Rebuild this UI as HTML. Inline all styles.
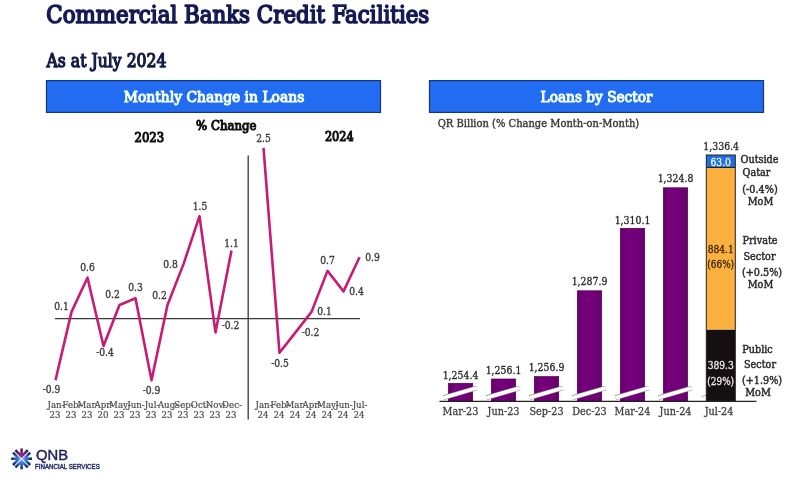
<!DOCTYPE html>
<html lang="en">
<head>
<meta charset="utf-8">
<title>Commercial Banks Credit Facilities</title>
<style>
html,body{margin:0;padding:0;background:#fff;}
body{width:800px;height:487px;overflow:hidden;}
svg{display:block;font-family:"DejaVu Serif Condensed", "DejaVu Serif", "Liberation Serif", serif;filter:blur(0.4px);}
</style>
</head>
<body>
<svg width="800" height="487" viewBox="0 0 800 487">
<rect width="800" height="487" fill="#ffffff"/>
<text x="46.3" y="23.1" font-size="24.6" stroke="#151a55" stroke-width="1.6" stroke-linejoin="round" textLength="383" lengthAdjust="spacingAndGlyphs" fill="#151a55">Commercial Banks Credit Facilities</text>
<text x="46.5" y="67.2" font-size="18.8" stroke="#171c45" stroke-width="1.25" stroke-linejoin="round" textLength="120" lengthAdjust="spacingAndGlyphs" fill="#171c45">As at July 2024</text>
<rect x="46.5" y="80.6" width="334" height="31.8" fill="#226cf2" stroke="#17357f" stroke-width="1.2"/>
<rect x="429.5" y="80.6" width="334" height="31.8" fill="#226cf2" stroke="#17357f" stroke-width="1.2"/>
<text x="214" y="101.8" font-size="14.8" text-anchor="middle" stroke="#f2ffff" stroke-width="1.0" stroke-linejoin="round" textLength="180.5" lengthAdjust="spacingAndGlyphs" fill="#f2ffff">Monthly Change in Loans</text>
<text x="596.6" y="101.8" font-size="14.8" text-anchor="middle" stroke="#f2ffff" stroke-width="1.0" stroke-linejoin="round" textLength="112" lengthAdjust="spacingAndGlyphs" fill="#f2ffff">Loans by Sector</text>
<text x="149.3" y="141.5" font-size="13.6" text-anchor="middle" stroke="#111" stroke-width="1.1" stroke-linejoin="round" textLength="29.5" lengthAdjust="spacingAndGlyphs" fill="#111">2023</text>
<text x="226.3" y="130" font-size="13.6" text-anchor="middle" stroke="#111" stroke-width="1.05" stroke-linejoin="round" textLength="60.5" lengthAdjust="spacingAndGlyphs" fill="#111">% Change</text>
<text x="339.3" y="140.6" font-size="13.6" text-anchor="middle" stroke="#111" stroke-width="1.1" stroke-linejoin="round" textLength="28.8" lengthAdjust="spacingAndGlyphs" fill="#111">2024</text>
<line x1="248.2" y1="155.5" x2="248.2" y2="419.5" stroke="#383838" stroke-width="1.3"/>
<line x1="55" y1="318.6" x2="360" y2="318.6" stroke="#383838" stroke-width="1.3"/>
<polyline points="55.5,380.2 71.5,311.9 87.5,277.7 103.5,346.0 119.5,305.0 135.5,298.2 151.5,380.2 167.5,305.0 183.5,264.1 199.5,216.2 215.5,332.4 231.5,250.4" fill="none" stroke="#c61c73" stroke-width="2.6" stroke-linejoin="round" stroke-linecap="butt"/>
<polyline points="263.5,147.9 279.5,352.8 295.5,332.4 311.5,311.9 327.5,270.9 343.5,291.4 359.5,257.2" fill="none" stroke="#c61c73" stroke-width="2.6" stroke-linejoin="round" stroke-linecap="butt"/>
<text x="51.5" y="392.5" font-size="10.2" text-anchor="middle" stroke="#3e3e3e" stroke-width="0.35" stroke-linejoin="round" fill="#3e3e3e">-0.9</text>
<text x="61.5" y="309.8" font-size="10.2" text-anchor="middle" stroke="#3e3e3e" stroke-width="0.35" stroke-linejoin="round" fill="#3e3e3e">0.1</text>
<text x="87.5" y="270.8" font-size="10.2" text-anchor="middle" stroke="#3e3e3e" stroke-width="0.35" stroke-linejoin="round" fill="#3e3e3e">0.6</text>
<text x="105.0" y="356.3" font-size="10.2" text-anchor="middle" stroke="#3e3e3e" stroke-width="0.35" stroke-linejoin="round" fill="#3e3e3e">-0.4</text>
<text x="112.5" y="298.3" font-size="10.2" text-anchor="middle" stroke="#3e3e3e" stroke-width="0.35" stroke-linejoin="round" fill="#3e3e3e">0.2</text>
<text x="135.5" y="291.3" font-size="10.2" text-anchor="middle" stroke="#3e3e3e" stroke-width="0.35" stroke-linejoin="round" fill="#3e3e3e">0.3</text>
<text x="151.5" y="394.0" font-size="10.2" text-anchor="middle" stroke="#3e3e3e" stroke-width="0.35" stroke-linejoin="round" fill="#3e3e3e">-0.9</text>
<text x="159.5" y="299.3" font-size="10.2" text-anchor="middle" stroke="#3e3e3e" stroke-width="0.35" stroke-linejoin="round" fill="#3e3e3e">0.2</text>
<text x="170.5" y="267.8" font-size="10.2" text-anchor="middle" stroke="#3e3e3e" stroke-width="0.35" stroke-linejoin="round" fill="#3e3e3e">0.8</text>
<text x="200.0" y="209.8" font-size="10.2" text-anchor="middle" stroke="#3e3e3e" stroke-width="0.35" stroke-linejoin="round" fill="#3e3e3e">1.5</text>
<text x="230.5" y="329.3" font-size="10.2" text-anchor="middle" stroke="#3e3e3e" stroke-width="0.35" stroke-linejoin="round" fill="#3e3e3e">-0.2</text>
<text x="231.5" y="247.3" font-size="10.2" text-anchor="middle" stroke="#3e3e3e" stroke-width="0.35" stroke-linejoin="round" fill="#3e3e3e">1.1</text>
<text x="263.5" y="141.8" font-size="10.2" text-anchor="middle" stroke="#3e3e3e" stroke-width="0.35" stroke-linejoin="round" fill="#3e3e3e">2.5</text>
<text x="280.0" y="367.3" font-size="10.2" text-anchor="middle" stroke="#3e3e3e" stroke-width="0.35" stroke-linejoin="round" fill="#3e3e3e">-0.5</text>
<text x="310.5" y="335.8" font-size="10.2" text-anchor="middle" stroke="#3e3e3e" stroke-width="0.35" stroke-linejoin="round" fill="#3e3e3e">-0.2</text>
<text x="324.5" y="315.3" font-size="10.2" text-anchor="middle" stroke="#3e3e3e" stroke-width="0.35" stroke-linejoin="round" fill="#3e3e3e">0.1</text>
<text x="327.5" y="263.8" font-size="10.2" text-anchor="middle" stroke="#3e3e3e" stroke-width="0.35" stroke-linejoin="round" fill="#3e3e3e">0.7</text>
<text x="356.5" y="295.3" font-size="10.2" text-anchor="middle" stroke="#3e3e3e" stroke-width="0.35" stroke-linejoin="round" fill="#3e3e3e">0.4</text>
<text x="372.5" y="260.8" font-size="10.2" text-anchor="middle" stroke="#3e3e3e" stroke-width="0.35" stroke-linejoin="round" fill="#3e3e3e">0.9</text>
<text x="56.0" y="408.2" font-size="9.6" text-anchor="middle" stroke="#484848" stroke-width="0.2" stroke-linejoin="round" fill="#484848">Jan-</text>
<text x="55.0" y="418.3" font-size="9.6" text-anchor="middle" stroke="#484848" stroke-width="0.2" stroke-linejoin="round" fill="#484848">23</text>
<text x="72.0" y="408.2" font-size="9.6" text-anchor="middle" stroke="#484848" stroke-width="0.2" stroke-linejoin="round" fill="#484848">Feb-</text>
<text x="71.0" y="418.3" font-size="9.6" text-anchor="middle" stroke="#484848" stroke-width="0.2" stroke-linejoin="round" fill="#484848">23</text>
<text x="88.0" y="408.2" font-size="9.6" text-anchor="middle" stroke="#484848" stroke-width="0.2" stroke-linejoin="round" fill="#484848">Mar-</text>
<text x="87.0" y="418.3" font-size="9.6" text-anchor="middle" stroke="#484848" stroke-width="0.2" stroke-linejoin="round" fill="#484848">23</text>
<text x="104.0" y="408.2" font-size="9.6" text-anchor="middle" stroke="#484848" stroke-width="0.2" stroke-linejoin="round" fill="#484848">Apr-</text>
<text x="103.0" y="418.3" font-size="9.6" text-anchor="middle" stroke="#484848" stroke-width="0.2" stroke-linejoin="round" fill="#484848">20</text>
<text x="120.0" y="408.2" font-size="9.6" text-anchor="middle" stroke="#484848" stroke-width="0.2" stroke-linejoin="round" fill="#484848">May-</text>
<text x="119.0" y="418.3" font-size="9.6" text-anchor="middle" stroke="#484848" stroke-width="0.2" stroke-linejoin="round" fill="#484848">23</text>
<text x="136.0" y="408.2" font-size="9.6" text-anchor="middle" stroke="#484848" stroke-width="0.2" stroke-linejoin="round" fill="#484848">Jun-</text>
<text x="135.0" y="418.3" font-size="9.6" text-anchor="middle" stroke="#484848" stroke-width="0.2" stroke-linejoin="round" fill="#484848">23</text>
<text x="152.0" y="408.2" font-size="9.6" text-anchor="middle" stroke="#484848" stroke-width="0.2" stroke-linejoin="round" fill="#484848">Jul-</text>
<text x="151.0" y="418.3" font-size="9.6" text-anchor="middle" stroke="#484848" stroke-width="0.2" stroke-linejoin="round" fill="#484848">23</text>
<text x="168.0" y="408.2" font-size="9.6" text-anchor="middle" stroke="#484848" stroke-width="0.2" stroke-linejoin="round" fill="#484848">Aug-</text>
<text x="167.0" y="418.3" font-size="9.6" text-anchor="middle" stroke="#484848" stroke-width="0.2" stroke-linejoin="round" fill="#484848">23</text>
<text x="184.0" y="408.2" font-size="9.6" text-anchor="middle" stroke="#484848" stroke-width="0.2" stroke-linejoin="round" fill="#484848">Sep-</text>
<text x="183.0" y="418.3" font-size="9.6" text-anchor="middle" stroke="#484848" stroke-width="0.2" stroke-linejoin="round" fill="#484848">23</text>
<text x="200.0" y="408.2" font-size="9.6" text-anchor="middle" stroke="#484848" stroke-width="0.2" stroke-linejoin="round" fill="#484848">Oct-</text>
<text x="199.0" y="418.3" font-size="9.6" text-anchor="middle" stroke="#484848" stroke-width="0.2" stroke-linejoin="round" fill="#484848">23</text>
<text x="216.0" y="408.2" font-size="9.6" text-anchor="middle" stroke="#484848" stroke-width="0.2" stroke-linejoin="round" fill="#484848">Nov-</text>
<text x="215.0" y="418.3" font-size="9.6" text-anchor="middle" stroke="#484848" stroke-width="0.2" stroke-linejoin="round" fill="#484848">23</text>
<text x="232.0" y="408.2" font-size="9.6" text-anchor="middle" stroke="#484848" stroke-width="0.2" stroke-linejoin="round" fill="#484848">Dec-</text>
<text x="231.0" y="418.3" font-size="9.6" text-anchor="middle" stroke="#484848" stroke-width="0.2" stroke-linejoin="round" fill="#484848">23</text>
<text x="264.0" y="408.2" font-size="9.6" text-anchor="middle" stroke="#484848" stroke-width="0.2" stroke-linejoin="round" fill="#484848">Jan-</text>
<text x="263.0" y="418.3" font-size="9.6" text-anchor="middle" stroke="#484848" stroke-width="0.2" stroke-linejoin="round" fill="#484848">24</text>
<text x="280.0" y="408.2" font-size="9.6" text-anchor="middle" stroke="#484848" stroke-width="0.2" stroke-linejoin="round" fill="#484848">Feb-</text>
<text x="279.0" y="418.3" font-size="9.6" text-anchor="middle" stroke="#484848" stroke-width="0.2" stroke-linejoin="round" fill="#484848">24</text>
<text x="296.0" y="408.2" font-size="9.6" text-anchor="middle" stroke="#484848" stroke-width="0.2" stroke-linejoin="round" fill="#484848">Mar-</text>
<text x="295.0" y="418.3" font-size="9.6" text-anchor="middle" stroke="#484848" stroke-width="0.2" stroke-linejoin="round" fill="#484848">24</text>
<text x="312.0" y="408.2" font-size="9.6" text-anchor="middle" stroke="#484848" stroke-width="0.2" stroke-linejoin="round" fill="#484848">Apr-</text>
<text x="311.0" y="418.3" font-size="9.6" text-anchor="middle" stroke="#484848" stroke-width="0.2" stroke-linejoin="round" fill="#484848">24</text>
<text x="328.0" y="408.2" font-size="9.6" text-anchor="middle" stroke="#484848" stroke-width="0.2" stroke-linejoin="round" fill="#484848">May-</text>
<text x="327.0" y="418.3" font-size="9.6" text-anchor="middle" stroke="#484848" stroke-width="0.2" stroke-linejoin="round" fill="#484848">24</text>
<text x="344.0" y="408.2" font-size="9.6" text-anchor="middle" stroke="#484848" stroke-width="0.2" stroke-linejoin="round" fill="#484848">Jun-</text>
<text x="343.0" y="418.3" font-size="9.6" text-anchor="middle" stroke="#484848" stroke-width="0.2" stroke-linejoin="round" fill="#484848">24</text>
<text x="360.0" y="408.2" font-size="9.6" text-anchor="middle" stroke="#484848" stroke-width="0.2" stroke-linejoin="round" fill="#484848">Jul-</text>
<text x="359.0" y="418.3" font-size="9.6" text-anchor="middle" stroke="#484848" stroke-width="0.2" stroke-linejoin="round" fill="#484848">24</text>
<text x="437.7" y="127.1" font-size="11.4" stroke="#3a3a3a" stroke-width="0.4" stroke-linejoin="round" textLength="201.5" lengthAdjust="spacingAndGlyphs" fill="#3a3a3a">QR Billion (% Change Month-on-Month)</text>
<defs><linearGradient id="pg" x1="0" y1="0" x2="1" y2="0"><stop offset="0" stop-color="#64006b"/><stop offset="0.35" stop-color="#77007d"/><stop offset="1" stop-color="#69006f"/></linearGradient></defs>
<rect x="448.3" y="383.3" width="24.4" height="17.7" fill="url(#pg)" stroke="#4c0052" stroke-width="0.7"/>
<text transform="translate(460.5 378.5) scale(0.93 1)" font-size="11.2" text-anchor="middle" stroke="#262626" stroke-width="0.3" stroke-linejoin="round" fill="#262626">1,254.4</text>
<text transform="translate(460.5 415) scale(0.96 1)" font-size="11.2" text-anchor="middle" stroke="#3e3e3e" stroke-width="0.3" stroke-linejoin="round" fill="#3e3e3e">Mar-23</text>
<rect x="491.3" y="379.0" width="24.4" height="22.00000000000001" fill="url(#pg)" stroke="#4c0052" stroke-width="0.7"/>
<text transform="translate(503.5 373.7) scale(0.93 1)" font-size="11.2" text-anchor="middle" stroke="#262626" stroke-width="0.3" stroke-linejoin="round" fill="#262626">1,256.1</text>
<text transform="translate(503.5 415) scale(0.96 1)" font-size="11.2" text-anchor="middle" stroke="#3e3e3e" stroke-width="0.3" stroke-linejoin="round" fill="#3e3e3e">Jun-23</text>
<rect x="534.3" y="376.6" width="24.4" height="24.399999999999988" fill="url(#pg)" stroke="#4c0052" stroke-width="0.7"/>
<text transform="translate(546.5 371.1) scale(0.93 1)" font-size="11.2" text-anchor="middle" stroke="#262626" stroke-width="0.3" stroke-linejoin="round" fill="#262626">1,256.9</text>
<text transform="translate(546.5 415) scale(0.96 1)" font-size="11.2" text-anchor="middle" stroke="#3e3e3e" stroke-width="0.3" stroke-linejoin="round" fill="#3e3e3e">Sep-23</text>
<rect x="577.3" y="290.8" width="24.4" height="110.2" fill="url(#pg)" stroke="#4c0052" stroke-width="0.7"/>
<text transform="translate(589.5 285.3) scale(0.93 1)" font-size="11.2" text-anchor="middle" stroke="#262626" stroke-width="0.3" stroke-linejoin="round" fill="#262626">1,287.9</text>
<text transform="translate(589.5 415) scale(0.96 1)" font-size="11.2" text-anchor="middle" stroke="#3e3e3e" stroke-width="0.3" stroke-linejoin="round" fill="#3e3e3e">Dec-23</text>
<rect x="620.3" y="228.3" width="24.4" height="172.7" fill="url(#pg)" stroke="#4c0052" stroke-width="0.7"/>
<text transform="translate(632.5 223.5) scale(0.93 1)" font-size="11.2" text-anchor="middle" stroke="#262626" stroke-width="0.3" stroke-linejoin="round" fill="#262626">1,310.1</text>
<text transform="translate(632.5 415) scale(0.96 1)" font-size="11.2" text-anchor="middle" stroke="#3e3e3e" stroke-width="0.3" stroke-linejoin="round" fill="#3e3e3e">Mar-24</text>
<rect x="663.3" y="187.8" width="24.4" height="213.2" fill="url(#pg)" stroke="#4c0052" stroke-width="0.7"/>
<text transform="translate(675.5 182.3) scale(0.93 1)" font-size="11.2" text-anchor="middle" stroke="#262626" stroke-width="0.3" stroke-linejoin="round" fill="#262626">1,324.8</text>
<text transform="translate(675.5 415) scale(0.96 1)" font-size="11.2" text-anchor="middle" stroke="#3e3e3e" stroke-width="0.3" stroke-linejoin="round" fill="#3e3e3e">Jun-24</text>
<line x1="701.8" y1="396.6" x2="706.5" y2="395.1" stroke="#a9a3ab" stroke-width="1"/>
<rect x="706.3" y="329.5" width="29.0" height="71.5" fill="#141012"/>
<rect x="706.3" y="167.5" width="29.0" height="162" fill="#fbb040"/>
<rect x="706.3" y="155" width="29.0" height="12.5" fill="#1f6fe0"/>
<rect x="706.3" y="155" width="29.0" height="246" fill="none" stroke="#2b2118" stroke-width="1"/>
<line x1="706.3" y1="167.5" x2="735.3" y2="167.5" stroke="#2b2118" stroke-width="1"/>
<text transform="translate(721.2 149.9) scale(0.93 1)" font-size="11.2" text-anchor="middle" stroke="#262626" stroke-width="0.3" stroke-linejoin="round" fill="#262626">1,336.4</text>
<text transform="translate(719 415) scale(0.96 1)" font-size="11.2" text-anchor="middle" stroke="#3e3e3e" stroke-width="0.3" stroke-linejoin="round" fill="#3e3e3e">Jul-24</text>
<text transform="translate(720.7 165.7) scale(0.95 1)" font-size="10.8" text-anchor="middle" stroke="#eef6ff" stroke-width="0.3" stroke-linejoin="round" fill="#eef6ff">63.0</text>
<text transform="translate(720.7 252.5) scale(0.94 1)" font-size="10.8" text-anchor="middle" stroke="#3a2408" stroke-width="0.3" stroke-linejoin="round" fill="#3a2408">884.1</text>
<text transform="translate(720.7 267.5) scale(0.92 1)" font-size="10.8" text-anchor="middle" stroke="#3a2408" stroke-width="0.3" stroke-linejoin="round" fill="#3a2408">(66%)</text>
<text transform="translate(720.7 368.7) scale(0.94 1)" font-size="10.8" text-anchor="middle" stroke="#f3e8ee" stroke-width="0.3" stroke-linejoin="round" fill="#f3e8ee">389.3</text>
<text transform="translate(720.7 384.5) scale(0.92 1)" font-size="10.8" text-anchor="middle" stroke="#f3e8ee" stroke-width="0.3" stroke-linejoin="round" fill="#f3e8ee">(29%)</text>
<line x1="443.5" y1="397.7" x2="476.7" y2="388.0" stroke="#8f8991" stroke-width="4.9"/>
<line x1="443.5" y1="397.7" x2="476.7" y2="388.0" stroke="#fff" stroke-width="3.7"/>
<line x1="486.5" y1="397.7" x2="519.7" y2="388.0" stroke="#8f8991" stroke-width="4.9"/>
<line x1="486.5" y1="397.7" x2="519.7" y2="388.0" stroke="#fff" stroke-width="3.7"/>
<line x1="529.5" y1="397.7" x2="562.7" y2="388.0" stroke="#8f8991" stroke-width="4.9"/>
<line x1="529.5" y1="397.7" x2="562.7" y2="388.0" stroke="#fff" stroke-width="3.7"/>
<line x1="572.5" y1="397.7" x2="605.7" y2="388.0" stroke="#8f8991" stroke-width="4.9"/>
<line x1="572.5" y1="397.7" x2="605.7" y2="388.0" stroke="#fff" stroke-width="3.7"/>
<line x1="615.5" y1="397.7" x2="648.7" y2="388.0" stroke="#8f8991" stroke-width="4.9"/>
<line x1="615.5" y1="397.7" x2="648.7" y2="388.0" stroke="#fff" stroke-width="3.7"/>
<line x1="658.5" y1="397.7" x2="691.7" y2="388.0" stroke="#8f8991" stroke-width="4.9"/>
<line x1="658.5" y1="397.7" x2="691.7" y2="388.0" stroke="#fff" stroke-width="3.7"/>
<line x1="439.5" y1="401.3" x2="756.5" y2="401.3" stroke="#222" stroke-width="1.2"/>
<text transform="translate(759.5 162.5) scale(0.96 1)" font-size="11.2" text-anchor="middle" stroke="#2a2a2a" stroke-width="0.45" stroke-linejoin="round" fill="#2a2a2a">Outside</text>
<text transform="translate(756.5 176) scale(0.96 1)" font-size="11.2" text-anchor="middle" stroke="#2a2a2a" stroke-width="0.45" stroke-linejoin="round" fill="#2a2a2a">Qatar</text>
<text transform="translate(760.0 192.5) scale(0.96 1)" font-size="11.2" text-anchor="middle" stroke="#2a2a2a" stroke-width="0.45" stroke-linejoin="round" fill="#2a2a2a">(-0.4%)</text>
<text transform="translate(760.5 205) scale(0.96 1)" font-size="11.2" text-anchor="middle" stroke="#2a2a2a" stroke-width="0.45" stroke-linejoin="round" fill="#2a2a2a">MoM</text>
<text transform="translate(760.0 243.7) scale(0.96 1)" font-size="11.2" text-anchor="middle" stroke="#2a2a2a" stroke-width="0.45" stroke-linejoin="round" fill="#2a2a2a">Private</text>
<text transform="translate(759.5 260) scale(0.96 1)" font-size="11.2" text-anchor="middle" stroke="#2a2a2a" stroke-width="0.45" stroke-linejoin="round" fill="#2a2a2a">Sector</text>
<text transform="translate(762.0 275.7) scale(0.96 1)" font-size="11.2" text-anchor="middle" stroke="#2a2a2a" stroke-width="0.45" stroke-linejoin="round" fill="#2a2a2a">(+0.5%)</text>
<text transform="translate(760.5 288.2) scale(0.96 1)" font-size="11.2" text-anchor="middle" stroke="#2a2a2a" stroke-width="0.45" stroke-linejoin="round" fill="#2a2a2a">MoM</text>
<text transform="translate(757.5 352.5) scale(0.96 1)" font-size="11.2" text-anchor="middle" stroke="#2a2a2a" stroke-width="0.45" stroke-linejoin="round" fill="#2a2a2a">Public</text>
<text transform="translate(760.0 368.2) scale(0.96 1)" font-size="11.2" text-anchor="middle" stroke="#2a2a2a" stroke-width="0.45" stroke-linejoin="round" fill="#2a2a2a">Sector</text>
<text transform="translate(762.0 383.7) scale(0.96 1)" font-size="11.2" text-anchor="middle" stroke="#2a2a2a" stroke-width="0.45" stroke-linejoin="round" fill="#2a2a2a">(+1.9%)</text>
<text transform="translate(758.0 396.2) scale(0.96 1)" font-size="11.2" text-anchor="middle" stroke="#2a2a2a" stroke-width="0.45" stroke-linejoin="round" fill="#2a2a2a">MoM</text>
<defs>
<radialGradient id="gp" gradientUnits="userSpaceOnUse" cx="0" cy="0" r="10.6"><stop offset="0.25" stop-color="#9a2a94"/><stop offset="0.6" stop-color="#6e1e78"/><stop offset="1" stop-color="#2e1242"/></radialGradient>
<radialGradient id="gb" gradientUnits="userSpaceOnUse" cx="0" cy="0" r="10.6"><stop offset="0.2" stop-color="#5aa2ea"/><stop offset="0.55" stop-color="#2a62bc"/><stop offset="1" stop-color="#0f1d52"/></radialGradient>
</defs>
<g transform="translate(21.6,458.8)" fill="none" stroke-width="2.5" stroke-linecap="butt" stroke-linejoin="miter">
<path d="M0,-10.4 V-2.6 M-6.2,-8.6 L0,-2.4 L6.2,-8.6" stroke="url(#gp)"/>
<path d="M-10.4,0 H-2.6 M-8.6,-6.2 L-2.4,0 L-8.6,6.2" stroke="url(#gb)"/>
<path d="M10.4,0 H2.6 M8.6,-6.2 L2.4,0 L8.6,6.2" stroke="url(#gb)"/>
<path d="M0,10.4 V2.6 M-6.2,8.6 L0,2.4 L6.2,8.6" stroke="url(#gb)"/>
</g>
<text x="36" y="460.0" font-size="14.2" stroke="#1c1c5c" stroke-width="0.4" stroke-linejoin="round" textLength="32" lengthAdjust="spacingAndGlyphs" font-family='"Liberation Sans", "DejaVu Sans", sans-serif' fill="#1c1c5c">QNB</text>
<text x="35" y="468.8" font-size="6.8" stroke="#25306f" stroke-width="0.45" stroke-linejoin="round" textLength="64.8" lengthAdjust="spacingAndGlyphs" font-family='"Liberation Sans", "DejaVu Sans", sans-serif' fill="#25306f">FINANCIAL SERVICES</text>
</svg>
</body>
</html>
